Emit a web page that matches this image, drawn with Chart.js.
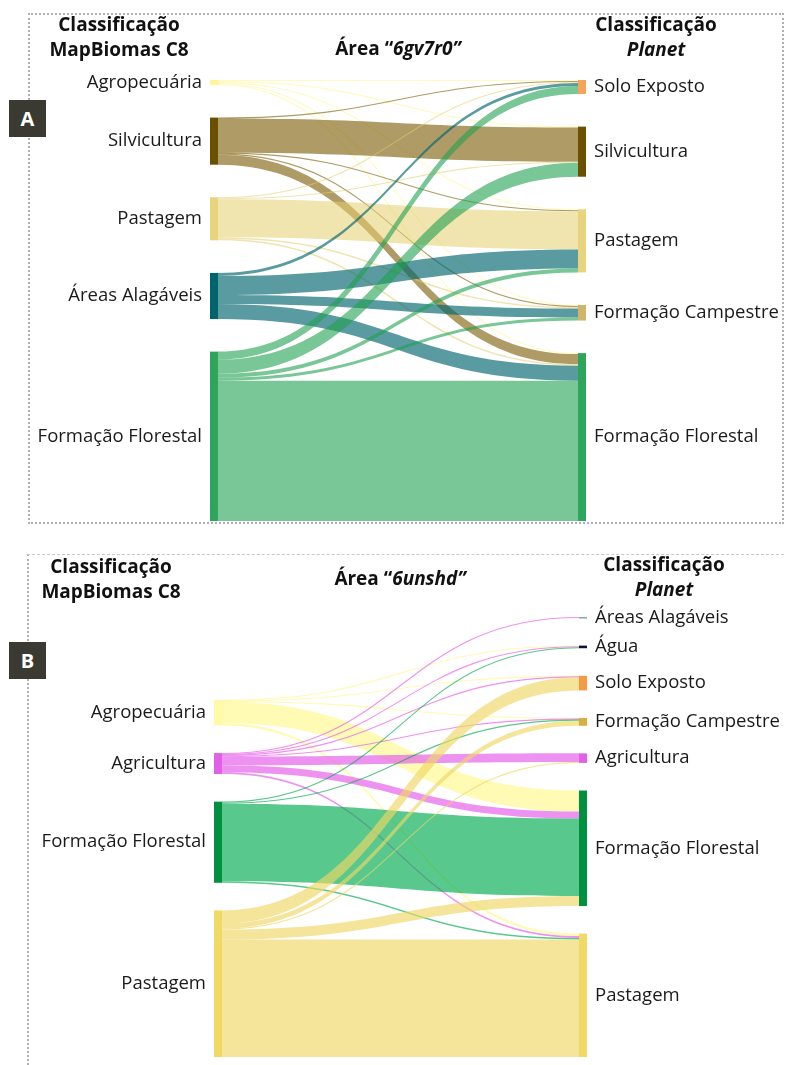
<!DOCTYPE html>
<html>
<head>
<meta charset="utf-8">
<script src="https://cdn.jsdelivr.net/npm/chart.js@4.4.0/dist/chart.umd.min.js"></script>
<style>
  body { margin: 0; background: #fff; font-family: 'Open Sans', sans-serif; color: #111; }
  #page { position: relative; width: 785px; height: 1065px; overflow: hidden; }
  .frameA { position: absolute; left: 28px; top: 13px; width: 752px; height: 507px; border: 2px dotted #b0b0b0; }
  .frameB { position: absolute; left: 27px; top: 554px; width: 770px; height: 530px; border-top: 1px dashed #c8c8c8; border-left: 2px dotted #b0b0b0; }
  .hdr { position: absolute; font-size: 19px; font-weight: 700; line-height: 25px; text-align: center; white-space: nowrap; }
  .tag { position: absolute; left: 9px; width: 37px; height: 37px; background: #3a3a32; color: #fff;
         font-weight: 700; font-size: 20px; line-height: 37px; text-align: center; }
  canvas { position: absolute; left: 0; }
</style>
</head>
<body>
<div id="page">
  <div class="frameA"></div>
  <div class="frameB"></div>

  <canvas id="sankeyA" width="785" height="530" style="top:0"></canvas>
  <canvas id="sankeyB" width="785" height="525" style="top:540px"></canvas>

  <div class="hdr" style="left:19px;width:200px;top:12px">Classificação<br>MapBiomas C8</div>
  <div class="hdr" style="left:298px;width:200px;top:36px">Área “<i>6gv7r0”</i></div>
  <div class="hdr" style="left:556px;width:200px;top:12px">Classificação<br><i>Planet</i></div>
  <div class="tag" style="top:100px">A</div>

  <div class="hdr" style="left:11px;width:200px;top:554px">Classificação<br>MapBiomas C8</div>
  <div class="hdr" style="left:300px;width:200px;top:566px">Área “<i>6unshd”</i></div>
  <div class="hdr" style="left:564px;width:200px;top:552px">Classificação<br><i>Planet</i></div>
  <div class="tag" style="top:642px">B</div>
</div>

<script>
// ---- data: panel A (área 6gv7r0) ----
var leftA = ['Agropecuária', 'Silvicultura', 'Pastagem', 'Áreas Alagáveis', 'Formação Florestal'];
var rightA = ['Solo Exposto', 'Silvicultura', 'Pastagem', 'Formação Campestre', 'Formação Florestal'];
// rows = MapBiomas C8 classes, columns = Planet classes
var flowsA = [
  [1, 1, 1, 1, 1],
  [1, 34, 1, 1, 10],
  [1, 1, 38, 1.5, 1.5],
  [3, 0, 19, 9, 15],
  [8, 14, 4, 3, 140]
];

// ---- data: panel B (área 6unshd) ----
var leftB = ['Agropecuária', 'Agricultura', 'Formação Florestal', 'Pastagem'];
var rightB = ['Áreas Alagáveis', 'Água', 'Solo Exposto', 'Formação Campestre', 'Agricultura', 'Formação Florestal', 'Pastagem'];
var flowsB = [
  [0, 0.8, 0.5, 0.7, 0, 21, 2.5],
  [1, 0.8, 1, 0.8, 8.5, 7, 1.8],
  [0, 1, 0, 1.2, 0, 77, 1.6],
  [0, 0, 13, 5, 1, 10, 117]
];

// ---- styles ----
var leftColorsA = ['#fff59a', '#6b5000', '#e8d47c', '#00646c', '#2da55b'];
var rightColorsA = ['#f7a35c', '#6b5000', '#e8d47c', '#d2b56c', '#2da55b'];
var linkColorsA = ['rgba(255,246,150,0.6)', 'rgba(122,89,0,0.6)', 'rgba(228,205,110,0.55)',
                   'rgba(0,101,109,0.65)', 'rgba(31,160,80,0.6)'];

var leftColorsB = ['#fff9a8', '#e060e6', '#009040', '#f0d964'];
var rightColorsB = ['#80aaa8', '#10103a', '#f79a45', '#d8ae3e', '#e060e6', '#009040', '#f0d964'];
var linkColorsB = ['rgba(255,248,140,0.65)', 'rgba(230,100,235,0.7)', 'rgba(0,170,80,0.65)',
                   'rgba(238,215,100,0.65)'];

function rowSums(f) { return f.map(function (r) { return r.reduce(function (a, b) { return a + b; }, 0); }); }
function colSums(f) { return f[0].map(function (_, j) { return f.reduce(function (a, r) { return a + r[j]; }, 0); }); }

function extent(flows, gap) {
  var ls = rowSums(flows), rs = colSums(flows);
  var tot = ls.reduce(function (a, b) { return a + b; }, 0);
  return tot + (Math.max(ls.length, rs.length) - 1) * gap;
}

var sankeyPlugin = {
  id: 'sankey',
  afterDatasetsDraw: function (chart) {
    var o = chart.options.plugins.sankey;
    var ctx = chart.ctx, xs = chart.scales.x, ys = chart.scales.y;
    var F = o.flows, ls = rowSums(F), rs = colSums(F);
    var yMax = ys.max, w = o.nodeWidth;

    function starts(sums) {
      var ext = sums.reduce(function (a, b) { return a + b; }, 0) + (sums.length - 1) * o.gap;
      var s = [], cur = yMax - ext; // shorter column sits at the bottom
      sums.forEach(function (v) { s.push(cur); cur += v + o.gap; });
      return s;
    }
    var lStart = starts(ls), rStart = starts(rs);
    var xL = xs.getPixelForValue(0), xR = xs.getPixelForValue(1);
    var x0 = xL + w, x1 = xR - w, xm = (x0 + x1) / 2;

    // links
    var outOff = lStart.slice(), inOff = rStart.slice();
    var inPos = F.map(function () { return []; });
    rs.forEach(function (_, j) {
      F.forEach(function (r, i) { inPos[i][j] = inOff[j]; inOff[j] += r[j]; });
    });
    F.forEach(function (r, i) {
      r.forEach(function (v, j) {
        if (!v) return;
        var s0 = ys.getPixelForValue(outOff[i]), s1 = ys.getPixelForValue(outOff[i] + v);
        var t0 = ys.getPixelForValue(inPos[i][j]), t1 = ys.getPixelForValue(inPos[i][j] + v);
        outOff[i] += v;
        ctx.beginPath();
        if (s1 - s0 < 1.6) {
          // thin flow: draw as a centre line
          var sm = (s0 + s1) / 2, tm = (t0 + t1) / 2;
          ctx.moveTo(x0, sm);
          ctx.bezierCurveTo(xm, sm, xm, tm, x1, tm);
          ctx.strokeStyle = o.linkColors[i];
          ctx.lineWidth = Math.max(s1 - s0, 1.1);
          ctx.stroke();
          return;
        }
        ctx.moveTo(x0, s0);
        ctx.bezierCurveTo(xm, s0, xm, t0, x1, t0);
        ctx.lineTo(x1, t1);
        ctx.bezierCurveTo(xm, t1, xm, s1, x0, s1);
        ctx.closePath();
        ctx.fillStyle = o.linkColors[i];
        ctx.fill();
      });
    });

    // nodes + labels
    ctx.font = '18.5px "Open Sans"';
    ctx.textBaseline = 'middle';
    function nodes(names, sums, st, colors, x, side) {
      names.forEach(function (n, i) {
        var a = ys.getPixelForValue(st[i]), b = ys.getPixelForValue(st[i] + sums[i]);
        var h = Math.max(b - a, 1.5);
        ctx.fillStyle = colors[i];
        ctx.fillRect(x, a, w, h);
        ctx.fillStyle = '#1a1a1a';
        ctx.textAlign = side === 'left' ? 'right' : 'left';
        ctx.fillText(n, side === 'left' ? x - o.labelPad : x + w + o.labelPad, a + h / 2);
      });
    }
    nodes(o.left, ls, lStart, o.leftColors, xL, 'left');
    nodes(o.right, rs, rStart, o.rightColors, x1, 'right');
  }
};

function makeSankey(id, left, right, flows, leftColors, rightColors, linkColors, gap, pad) {
  return new Chart(document.getElementById(id).getContext('2d'), {
    type: 'scatter',
    data: { datasets: [{ label: 'fluxos', data: [] }] },
    options: {
      responsive: false,
      animation: false,
      layout: { padding: pad },
      scales: {
        x: { type: 'linear', min: 0, max: 1, display: false },
        y: { type: 'linear', min: 0, max: extent(flows, gap), reverse: true, display: false }
      },
      plugins: {
        legend: { display: false },
        tooltip: { enabled: false },
        sankey: {
          left: left, right: right, flows: flows,
          leftColors: leftColors, rightColors: rightColors, linkColors: linkColors,
          gap: gap, nodeWidth: 8, labelPad: 8
        }
      }
    },
    plugins: [sankeyPlugin]
  });
}

var chartA = makeSankey('sankeyA', leftA, rightA, flowsA, leftColorsA, rightColorsA, linkColorsA, 32.5,
  { left: 210, right: 199, top: 80, bottom: 9 });
var chartB = makeSankey('sankeyB', leftB, rightB, flowsB, leftColorsB, rightColorsB, linkColorsB, 27.5,
  { left: 214, right: 198, top: 77, bottom: 8 });
</script>
</body>
</html>
